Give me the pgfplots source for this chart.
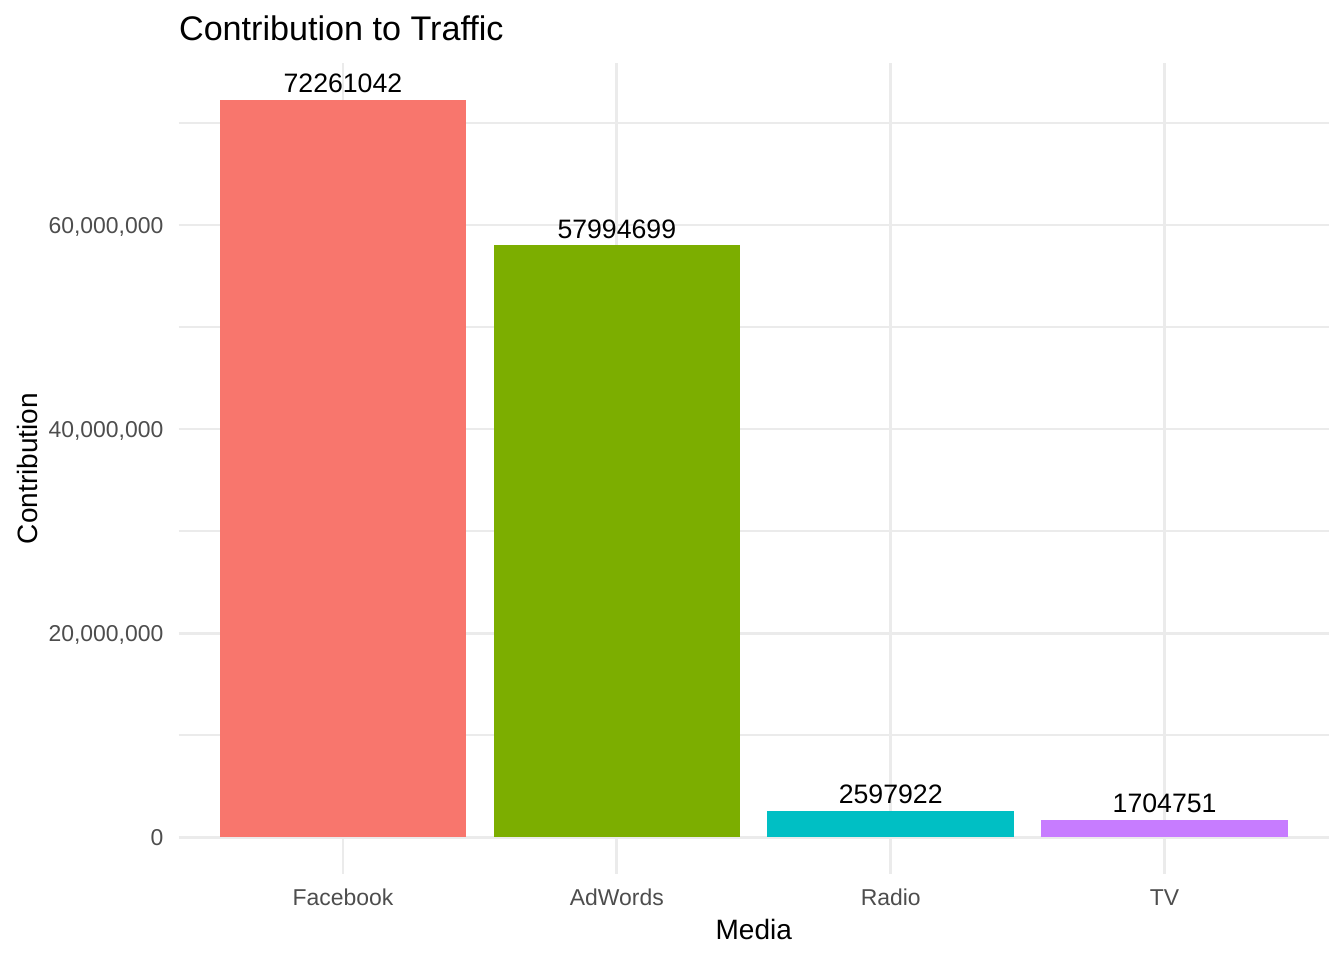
\documentclass[border=0pt]{standalone}
\usepackage{pgfplots}
\pgfplotsset{compat=1.18}
\usepackage{fontspec}
\setmainfont{Liberation Sans}
\definecolor{cFB}{HTML}{F8766D}
\definecolor{cAW}{HTML}{7CAE00}
\definecolor{cRA}{HTML}{00BFC4}
\definecolor{cTV}{HTML}{C77CFF}
\definecolor{gridc}{HTML}{EBEBEB}
\definecolor{tickc}{HTML}{4D4D4D}
\begin{document}
\begin{tikzpicture}
\useasboundingbox (0,0) rectangle (504pt,360pt);
\begin{axis}[
  at={(66.97pt,32.25pt)}, anchor=south west,
  scale only axis, width=431.4pt, height=304.1pt,
  xmin=0.4, xmax=4.6,
  ymin=-3613052, ymax=75874094,
  scaled y ticks=false,
  axis line style={draw=none},
  major tick length=0pt, minor tick length=0pt,
  xtick={1,2,3,4},
  xticklabels={Facebook,AdWords,Radio,TV},
  ytick={0,20000000,40000000,60000000},
  yticklabels={0,{20,000,000},{40,000,000},{60,000,000}},
  minor ytick={10000000,30000000,50000000,70000000},
  xmajorgrids, ymajorgrids, yminorgrids,
  major grid style={draw=gridc, line width=1.07pt},
  minor grid style={draw=gridc, line width=0.53pt},
  xticklabel style={anchor=base, inner sep=0pt, yshift=-11.9pt, text=tickc, font=\fontsize{8.6}{10}\selectfont},
  yticklabel style={anchor=base east, inner sep=0pt, xshift=-5.5pt, yshift=-3.1pt, text=tickc, font=\fontsize{8.6}{10}\selectfont},
  xlabel={Media},
  ylabel={Contribution},
  xlabel style={at={(axis description cs:0.5,-0.0806)}, anchor=base, inner sep=0pt, font=\fontsize{10.5}{12}\selectfont},
  ylabel style={at={(axis description cs:-0.1229,0.5)}, anchor=base, rotate=0, inner sep=0pt, font=\fontsize{10.5}{12}\selectfont},
  title={Contribution to Traffic},
  title style={at={(axis description cs:0,1.0077)}, anchor=base west, inner sep=0pt, font=\fontsize{12.8}{15}\selectfont},
  ybar, bar width=0.9,
  point meta=explicit symbolic,
  nodes near coords={\pgfplotspointmeta},
  every node near coord/.append style={anchor=base, inner sep=0pt, yshift=2.8pt, text=black, font=\fontsize{10}{12}\selectfont},
]
\addplot[draw=none, fill=cFB, bar shift=0pt] coordinates {(1,72261042) [72261042]};
\addplot[draw=none, fill=cAW, bar shift=0pt] coordinates {(2,57994699) [57994699]};
\addplot[draw=none, fill=cRA, bar shift=0pt] coordinates {(3,2597922) [2597922]};
\addplot[draw=none, fill=cTV, bar shift=0pt] coordinates {(4,1704751) [1704751]};
\end{axis}
\end{tikzpicture}
\end{document}
